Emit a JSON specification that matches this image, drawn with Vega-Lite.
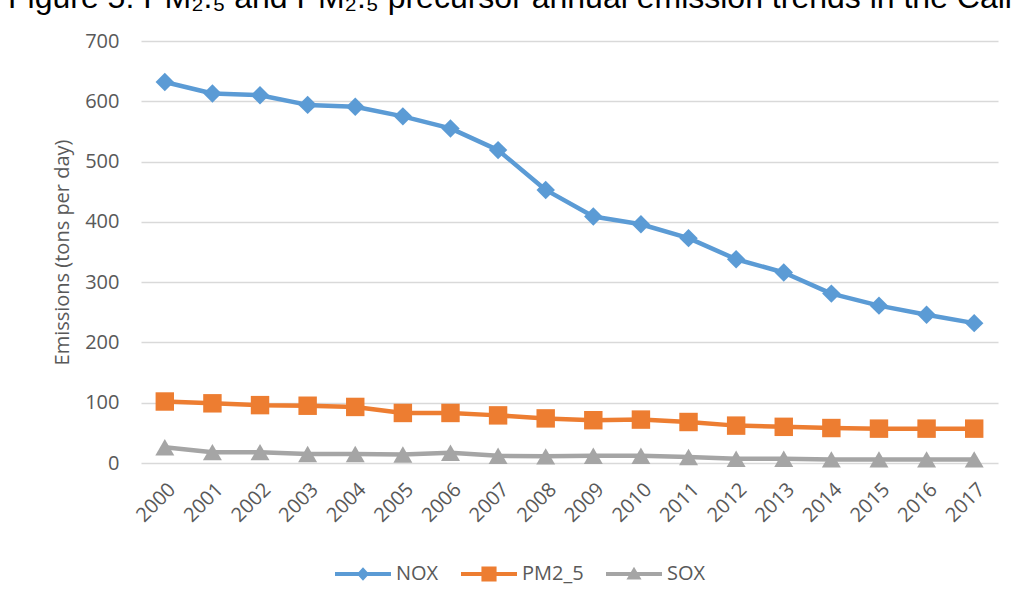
{
  "$schema": "https://vega.github.io/schema/vega-lite/v6.json",
  "autosize": {"type": "none"},
  "padding": {"left": 141, "top": 41, "right": 16, "bottom": 144},
  "width": 857,
  "height": 422,
  "background": "white",
  "title": {
    "text": "Figure 5:   PM₂.₅ and PM₂.₅ precursor annual emission trends in the California",
    "anchor": "start",
    "frame": "group",
    "dx": -133,
    "dy": 21,
    "baseline": "alphabetic",
    "offset": 12,
    "font": "Liberation Sans",
    "fontSize": 32,
    "fontWeight": "normal",
    "color": "#000000"
  },
  "config": {
    "view": {"stroke": null},
    "axis": {
      "labelFont": "Open Sans",
      "labelFontSize": 20,
      "labelColor": "#595959",
      "titleFont": "Open Sans",
      "titleFontSize": 20,
      "titleFontWeight": "normal",
      "titleColor": "#595959",
      "ticks": false,
      "domain": false
    }
  },
  "data": {
    "values": [
      {"year": "2000", "pollutant": "NOX", "value": 632},
      {"year": "2001", "pollutant": "NOX", "value": 613},
      {"year": "2002", "pollutant": "NOX", "value": 610},
      {"year": "2003", "pollutant": "NOX", "value": 594},
      {"year": "2004", "pollutant": "NOX", "value": 591},
      {"year": "2005", "pollutant": "NOX", "value": 575},
      {"year": "2006", "pollutant": "NOX", "value": 555},
      {"year": "2007", "pollutant": "NOX", "value": 519},
      {"year": "2008", "pollutant": "NOX", "value": 453},
      {"year": "2009", "pollutant": "NOX", "value": 409},
      {"year": "2010", "pollutant": "NOX", "value": 396},
      {"year": "2011", "pollutant": "NOX", "value": 373},
      {"year": "2012", "pollutant": "NOX", "value": 338},
      {"year": "2013", "pollutant": "NOX", "value": 316},
      {"year": "2014", "pollutant": "NOX", "value": 281},
      {"year": "2015", "pollutant": "NOX", "value": 261},
      {"year": "2016", "pollutant": "NOX", "value": 246},
      {"year": "2017", "pollutant": "NOX", "value": 232},
      {"year": "2000", "pollutant": "PM2_5", "value": 102},
      {"year": "2001", "pollutant": "PM2_5", "value": 99},
      {"year": "2002", "pollutant": "PM2_5", "value": 96},
      {"year": "2003", "pollutant": "PM2_5", "value": 95},
      {"year": "2004", "pollutant": "PM2_5", "value": 93},
      {"year": "2005", "pollutant": "PM2_5", "value": 83},
      {"year": "2006", "pollutant": "PM2_5", "value": 83},
      {"year": "2007", "pollutant": "PM2_5", "value": 79},
      {"year": "2008", "pollutant": "PM2_5", "value": 74},
      {"year": "2009", "pollutant": "PM2_5", "value": 71},
      {"year": "2010", "pollutant": "PM2_5", "value": 72},
      {"year": "2011", "pollutant": "PM2_5", "value": 68},
      {"year": "2012", "pollutant": "PM2_5", "value": 62},
      {"year": "2013", "pollutant": "PM2_5", "value": 60},
      {"year": "2014", "pollutant": "PM2_5", "value": 58},
      {"year": "2015", "pollutant": "PM2_5", "value": 57},
      {"year": "2016", "pollutant": "PM2_5", "value": 57},
      {"year": "2017", "pollutant": "PM2_5", "value": 57},
      {"year": "2000", "pollutant": "SOX", "value": 26},
      {"year": "2001", "pollutant": "SOX", "value": 18},
      {"year": "2002", "pollutant": "SOX", "value": 18},
      {"year": "2003", "pollutant": "SOX", "value": 15},
      {"year": "2004", "pollutant": "SOX", "value": 15},
      {"year": "2005", "pollutant": "SOX", "value": 14},
      {"year": "2006", "pollutant": "SOX", "value": 17},
      {"year": "2007", "pollutant": "SOX", "value": 12},
      {"year": "2008", "pollutant": "SOX", "value": 11},
      {"year": "2009", "pollutant": "SOX", "value": 12},
      {"year": "2010", "pollutant": "SOX", "value": 12},
      {"year": "2011", "pollutant": "SOX", "value": 10},
      {"year": "2012", "pollutant": "SOX", "value": 7},
      {"year": "2013", "pollutant": "SOX", "value": 7},
      {"year": "2014", "pollutant": "SOX", "value": 6},
      {"year": "2015", "pollutant": "SOX", "value": 6},
      {"year": "2016", "pollutant": "SOX", "value": 6},
      {"year": "2017", "pollutant": "SOX", "value": 6}
    ]
  },
  "encoding": {
    "x": {
      "field": "year",
      "type": "ordinal",
      "scale": {"type": "point", "padding": 0.5},
      "axis": {"title": null, "labelAngle": -45, "labelPadding": 16, "grid": false}
    },
    "y": {
      "field": "value",
      "type": "quantitative",
      "scale": {"domain": [0, 700], "nice": false},
      "axis": {
        "title": "Emissions (tons per day)",
        "values": [0, 100, 200, 300, 400, 500, 600, 700],
        "grid": true,
        "gridColor": "#D9D9D9",
        "gridWidth": 1.4,
        "labelPadding": 22,
        "titlePadding": 12
      }
    },
    "color": {
      "field": "pollutant",
      "type": "nominal",
      "scale": {"domain": ["NOX", "PM2_5", "SOX"], "range": ["#5B9BD5", "#ED7D31", "#A5A5A5"]},
      "legend": {
        "title": null,
        "orient": "none",
        "direction": "horizontal",
        "legendX": 194,
        "legendY": 505,
        "columns": 3,
        "columnPadding": 22,
        "labelOffset": 5,
        "symbolSize": 3136,
        "symbolStrokeWidth": 0,
        "symbolOpacity": 1,
        "labelFont": "Open Sans",
        "labelFontSize": 20,
        "labelColor": "#595959"
      }
    }
  },
  "layer": [
    {
      "mark": {"type": "line", "strokeWidth": 4.5, "strokeCap": "round", "strokeJoin": "round"}
    },
    {
      "transform": [{"filter": "datum.pollutant === 'NOX'"}],
      "mark": {"type": "point", "filled": true, "opacity": 1, "size": 340, "shape": "diamond"}
    },
    {
      "transform": [{"filter": "datum.pollutant === 'PM2_5'"}],
      "mark": {"type": "point", "filled": true, "opacity": 1, "size": 340, "shape": "square"}
    },
    {
      "transform": [{"filter": "datum.pollutant === 'SOX'"}],
      "mark": {"type": "point", "filled": true, "opacity": 1, "size": 360, "shape": "triangle-up"}
    },
    {
      "transform": [{"filter": "datum.value < 0"}],
      "mark": {"type": "point", "filled": true, "opacity": 1},
      "encoding": {
        "shape": {
          "field": "pollutant",
          "type": "nominal",
          "scale": {
            "domain": ["NOX", "PM2_5", "SOX"],
            "range": [
              "M-1,-0.07L1,-0.07L1,0.07L-1,0.07Z M0,-0.24L0.22,0L0,0.24L-0.22,0Z",
              "M-1,-0.07L1,-0.07L1,0.07L-1,0.07Z M-0.27,-0.27L0.27,-0.27L0.27,0.27L-0.27,0.27Z",
              "M-1,-0.07L1,-0.07L1,0.07L-1,0.07Z M0,-0.26L0.27,0.2L-0.27,0.2Z"
            ]
          },
          "legend": {
            "title": null,
            "orient": "none",
            "direction": "horizontal",
            "legendX": 194,
            "legendY": 505,
            "columns": 3,
            "columnPadding": 22,
            "labelOffset": 5,
            "symbolSize": 3136,
            "symbolStrokeWidth": 0,
            "symbolOpacity": 1,
            "labelFont": "Open Sans",
            "labelFontSize": 20,
            "labelColor": "#595959"
          }
        }
      }
    }
  ]
}
